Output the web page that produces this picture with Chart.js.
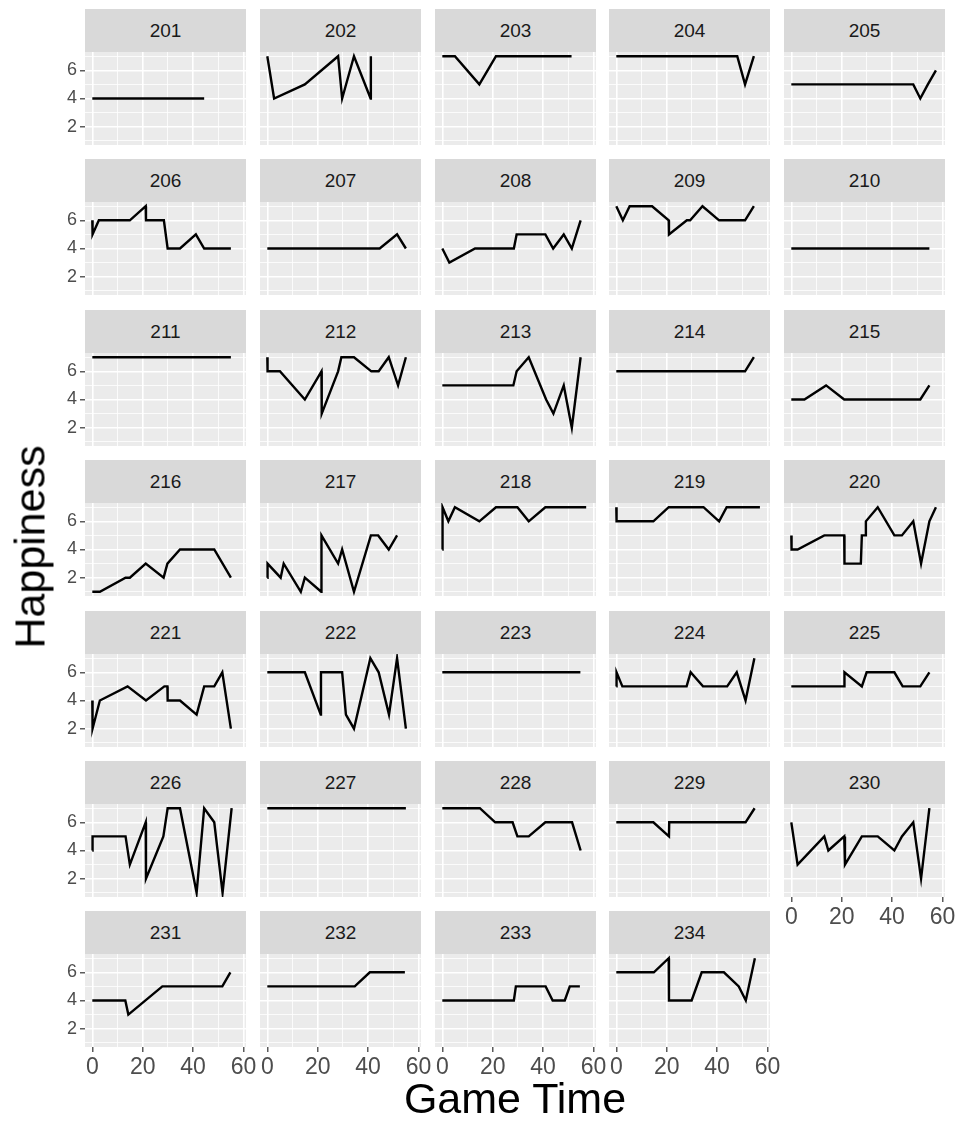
<!DOCTYPE html>
<html>
<head>
<meta charset="utf-8">
<script src="https://cdn.jsdelivr.net/npm/chart.js@4.4.1/dist/chart.umd.min.js"></script>
<style>
  body { margin: 0; background: #fff; font-family: "Liberation Sans", Arial, sans-serif; }
  #fig { position: relative; width: 961px; height: 1127px; overflow: hidden; }
  .strip { position: absolute; background: #d9d9d9; color: #1a1a1a; font-size: 19px;
           display: flex; align-items: center; justify-content: center; }
  .panel { position: absolute; }
  .title { position: absolute; color: #000; font-size: 43px; white-space: nowrap;
           transform: translate(-50%, -50%); }
</style>
</head>
<body>
<div id="fig"></div>
<script>
// facettes (un sujet par panneau)
const subjects = [201, 202, 203, 204, 205, 206, 207, 208, 209, 210, 211, 212, 213, 214, 215, 216, 217,
                  218, 219, 220, 221, 222, 223, 224, 225, 226, 227, 228, 229, 230, 231, 232, 233, 234];

// temps de jeu, une liste par sujet
const gameTime = [
  [0, 44.4],
  [0, 2.7, 14.9, 28.1, 29.7, 34.4, 41.0, 41.1],
  [0, 5, 14.7, 21.3, 51.3],
  [0, 48, 51.1, 54.6],
  [0, 48.4, 51.2, 54.2, 57.4],
  [0, 0.1, 2.6, 14.9, 21.2, 21.3, 28.4, 29.9, 34.8, 41.1, 44.4, 55],
  [0, 44.6, 51.5, 55],
  [0, 2.8, 13, 28.4, 29.5, 40.9, 44, 48.2, 51.4, 54.9],
  [0, 2.6, 5.3, 14.2, 20.8, 20.9, 28, 29.3, 34.2, 40.8, 51.1, 54.6],
  [0, 54.8],
  [0, 55],
  [0, 0.1, 5, 14.9, 21.5, 21.6, 28.1, 29.4, 34.4, 41.3, 44.2, 48.2, 51.9, 55],
  [0, 28.2, 29.5, 34.3, 41.2, 44.1, 48.2, 51.4, 54.9],
  [0, 51.1, 54.6],
  [0, 5.2, 13.8, 21, 51.2, 54.8],
  [0, 3, 13.2, 14.9, 21.2, 28.3, 29.8, 34.8, 48.4, 55],
  [0, 0.1, 5.3, 6.5, 13.3, 14.9, 21.4, 21.5, 28.1, 29.7, 34.4, 41.1, 44, 48.2, 51.5],
  [0, 0.1, 2.4, 5, 14.7, 21.3, 29.8, 34.3, 40.9, 57.1],
  [0, 0.1, 14.7, 20.8, 34.6, 40.8, 43.8, 57],
  [0, 0.1, 2.5, 13.1, 21, 21.1, 27.6, 28, 29.4, 29.6, 34.3, 40.9, 43.9, 48.4, 51.5, 54.8, 57.4],
  [0, 0.1, 3, 14, 21.3, 28.6, 29.8, 29.9, 34.8, 41.4, 44.4, 48.4, 51.6, 55],
  [0, 14.9, 21.2, 21.3, 29.7, 31.2, 34.4, 40.9, 44.2, 48.3, 51.5, 55],
  [0, 54.8],
  [0, 0.1, 2.4, 27.9, 29.5, 34.4, 44, 47.8, 51.3, 54.8],
  [0, 21, 21.1, 28, 29.9, 40.9, 44.2, 51.2, 54.8],
  [0, 0.1, 13.2, 14.9, 21.2, 21.3, 28.2, 29.9, 34.8, 41.4, 44.4, 48.4, 51.7, 55.3],
  [0, 55],
  [0, 14.9, 21, 27.9, 29.8, 34.3, 40.9, 51.5, 54.9],
  [0, 14.7, 20.9, 21, 51.3, 54.9],
  [0, 2.5, 13.1, 14.7, 21, 21.3, 28, 34.3, 40.9, 43.9, 48.4, 51.5, 54.8],
  [0, 13.1, 14.3, 27.8, 51.6, 54.8],
  [0, 34.7, 40.7, 54.6],
  [0, 28.4, 29.2, 41, 43.8, 48.6, 50.6, 54.6],
  [0, 14.9, 20.8, 20.9, 29.9, 33.9, 42.7, 48.6, 51.4, 55]
];

// bonheur, une liste par sujet
const happiness = [
  [4, 4],
  [7, 4, 5, 7, 4, 7, 4, 7],
  [7, 7, 5, 7, 7],
  [7, 7, 5, 7],
  [5, 5, 4, 5, 6],
  [6, 5, 6, 6, 7, 6, 6, 4, 4, 5, 4, 4],
  [4, 4, 5, 4],
  [4, 3, 4, 4, 5, 5, 4, 5, 4, 6],
  [7, 6, 7, 7, 6, 5, 6, 6, 7, 6, 6, 7],
  [4, 4],
  [7, 7],
  [7, 6, 6, 4, 6, 3, 6, 7, 7, 6, 6, 7, 5, 7],
  [5, 5, 6, 7, 4, 3, 5, 2, 7],
  [6, 6, 7],
  [4, 4, 5, 4, 4, 5],
  [1, 1, 2, 2, 3, 2, 3, 4, 4, 2],
  [2, 3, 2, 3, 1, 2, 1, 5, 3, 4, 1, 5, 5, 4, 5],
  [4, 7, 6, 7, 6, 7, 7, 6, 7, 7],
  [7, 6, 6, 7, 7, 6, 7, 7],
  [5, 4, 4, 5, 5, 3, 3, 5, 5, 6, 7, 5, 5, 6, 3, 6, 7],
  [4, 2, 4, 5, 4, 5, 5, 4, 4, 3, 5, 5, 6, 2],
  [6, 6, 3, 6, 6, 3, 2, 7, 6, 3, 7, 2],
  [6, 6],
  [5, 6, 5, 5, 6, 5, 5, 6, 4, 7],
  [5, 5, 6, 5, 6, 6, 5, 5, 6],
  [4, 5, 5, 3, 6, 2, 5, 7, 7, 1, 7, 6, 1, 7],
  [7, 7],
  [7, 7, 6, 6, 5, 5, 6, 6, 4],
  [6, 6, 5, 6, 6, 7],
  [6, 3, 5, 4, 5, 3, 5, 5, 4, 5, 6, 2, 7],
  [4, 4, 3, 5, 5, 6],
  [5, 5, 6, 6],
  [4, 4, 5, 5, 4, 4, 5, 5],
  [6, 6, 7, 4, 4, 6, 6, 5, 4, 7]
];

// graduations (majeures + mineures)
const xTicks = [0, 10, 20, 30, 40, 50, 60];
const xLabels = [0, 20, 40, 60];
const yTicks = [1, 2, 3, 4, 5, 6, 7];
const yLabels = [2, 4, 6];

// mise en page des facettes
const NCOL = 5;
const PANEL_W = 161, PANEL_H = 93, STRIP_H = 43;
const X0 = 85, Y0 = 52, DX = 174.8, DY = 150.4;
const Y_AXIS_W = 45, X_AXIS_H = 42, X_OVER = 16;
const FONT = '"Liberation Sans", Arial, sans-serif';

// fond gris du panneau
const panelBg = {
    id: 'panelBg',
    beforeDraw(chart) {
        const { ctx, chartArea: a } = chart;
        ctx.save();
        ctx.fillStyle = '#ebebeb';
        ctx.fillRect(a.left, a.top, a.width, a.height);
        ctx.restore();
    }
};

const fig = document.getElementById('fig');

function addDiv(cls, text, css) {
    const d = document.createElement('div');
    d.className = cls;
    d.textContent = text;
    Object.assign(d.style, css);
    fig.appendChild(d);
    return d;
}

subjects.forEach((subject, i) => {
    const col = i % NCOL;
    const row = Math.floor(i / NCOL);
    const showY = col === 0;
    const showX = i + NCOL >= subjects.length;

    const left = Math.round(X0 + DX * col);
    const top = Math.round(Y0 + DY * row);

    addDiv('strip', String(subject), {
        left: left + 'px', top: (top - STRIP_H) + 'px',
        width: PANEL_W + 'px', height: STRIP_H + 'px'
    });

    const extL = showY ? Y_AXIS_W : 0;
    const extR = showX ? X_OVER : 0;
    const extB = showX ? X_AXIS_H : 0;

    const canvas = document.createElement('canvas');
    canvas.className = 'panel';
    canvas.width = PANEL_W + extL + extR;
    canvas.height = PANEL_H + extB;
    canvas.style.left = (left - extL) + 'px';
    canvas.style.top = top + 'px';
    canvas.style.width = canvas.width + 'px';
    canvas.style.height = canvas.height + 'px';
    fig.appendChild(canvas);

    const points = gameTime[i].map((t, j) => ({ x: t, y: happiness[i][j] }));

    new Chart(canvas, {
        type: 'line',
        data: {
            datasets: [{
                data: points,
                borderColor: '#000000',
                borderWidth: 2.4,
                pointRadius: 0,
                tension: 0,
                fill: false
            }]
        },
        options: {
            responsive: false,
            animation: false,
            events: [],
            layout: { padding: { left: 0, top: 0, right: extR, bottom: 0 }, autoPadding: false },
            plugins: { legend: { display: false }, tooltip: { enabled: false } },
            scales: {
                x: {
                    type: 'linear',
                    min: -2.9,
                    max: 61,
                    afterBuildTicks: s => { s.ticks = xTicks.map(v => ({ value: v })); },
                    afterFit: s => { s.height = extB; s.paddingLeft = 0; s.paddingRight = 0; },
                    border: { display: false },
                    grid: {
                        color: '#ffffff',
                        lineWidth: c => (c.tick && c.tick.value % 20 === 0) ? 1.6 : 0.8,
                        drawTicks: showX,
                        tickLength: 5,
                        tickWidth: 1.2,
                        tickColor: c => (c.tick && c.tick.value % 20 === 0) ? '#333333' : 'rgba(0,0,0,0)'
                    },
                    ticks: {
                        display: showX,
                        autoSkip: false,
                        maxRotation: 0,
                        padding: 2,
                        color: '#4d4d4d',
                        font: { size: 23, family: FONT },
                        callback: v => xLabels.includes(v) ? String(v) : ''
                    }
                },
                y: {
                    min: 0.7,
                    max: 7.3,
                    afterBuildTicks: s => { s.ticks = yTicks.map(v => ({ value: v })); },
                    afterFit: s => { s.width = extL; s.paddingTop = 0; s.paddingBottom = 0; },
                    border: { display: false },
                    grid: {
                        color: '#ffffff',
                        lineWidth: c => (c.tick && c.tick.value % 2 === 0) ? 1.6 : 0.8,
                        drawTicks: showY,
                        tickLength: 5,
                        tickWidth: 1.2,
                        tickColor: c => (c.tick && c.tick.value % 2 === 0) ? '#333333' : 'rgba(0,0,0,0)'
                    },
                    ticks: {
                        display: showY,
                        autoSkip: false,
                        padding: 3,
                        color: '#4d4d4d',
                        font: { size: 18, family: FONT },
                        callback: v => yLabels.includes(v) ? String(v) : ''
                    }
                }
            }
        },
        plugins: [panelBg]
    });
});

// titres des axes
addDiv('title', 'Happiness', { left: '30px', top: '547px', transform: 'translate(-50%, -50%) rotate(-90deg)' });
addDiv('title', 'Game Time', { left: '515px', top: '1098px' });
</script>
</body>
</html>
